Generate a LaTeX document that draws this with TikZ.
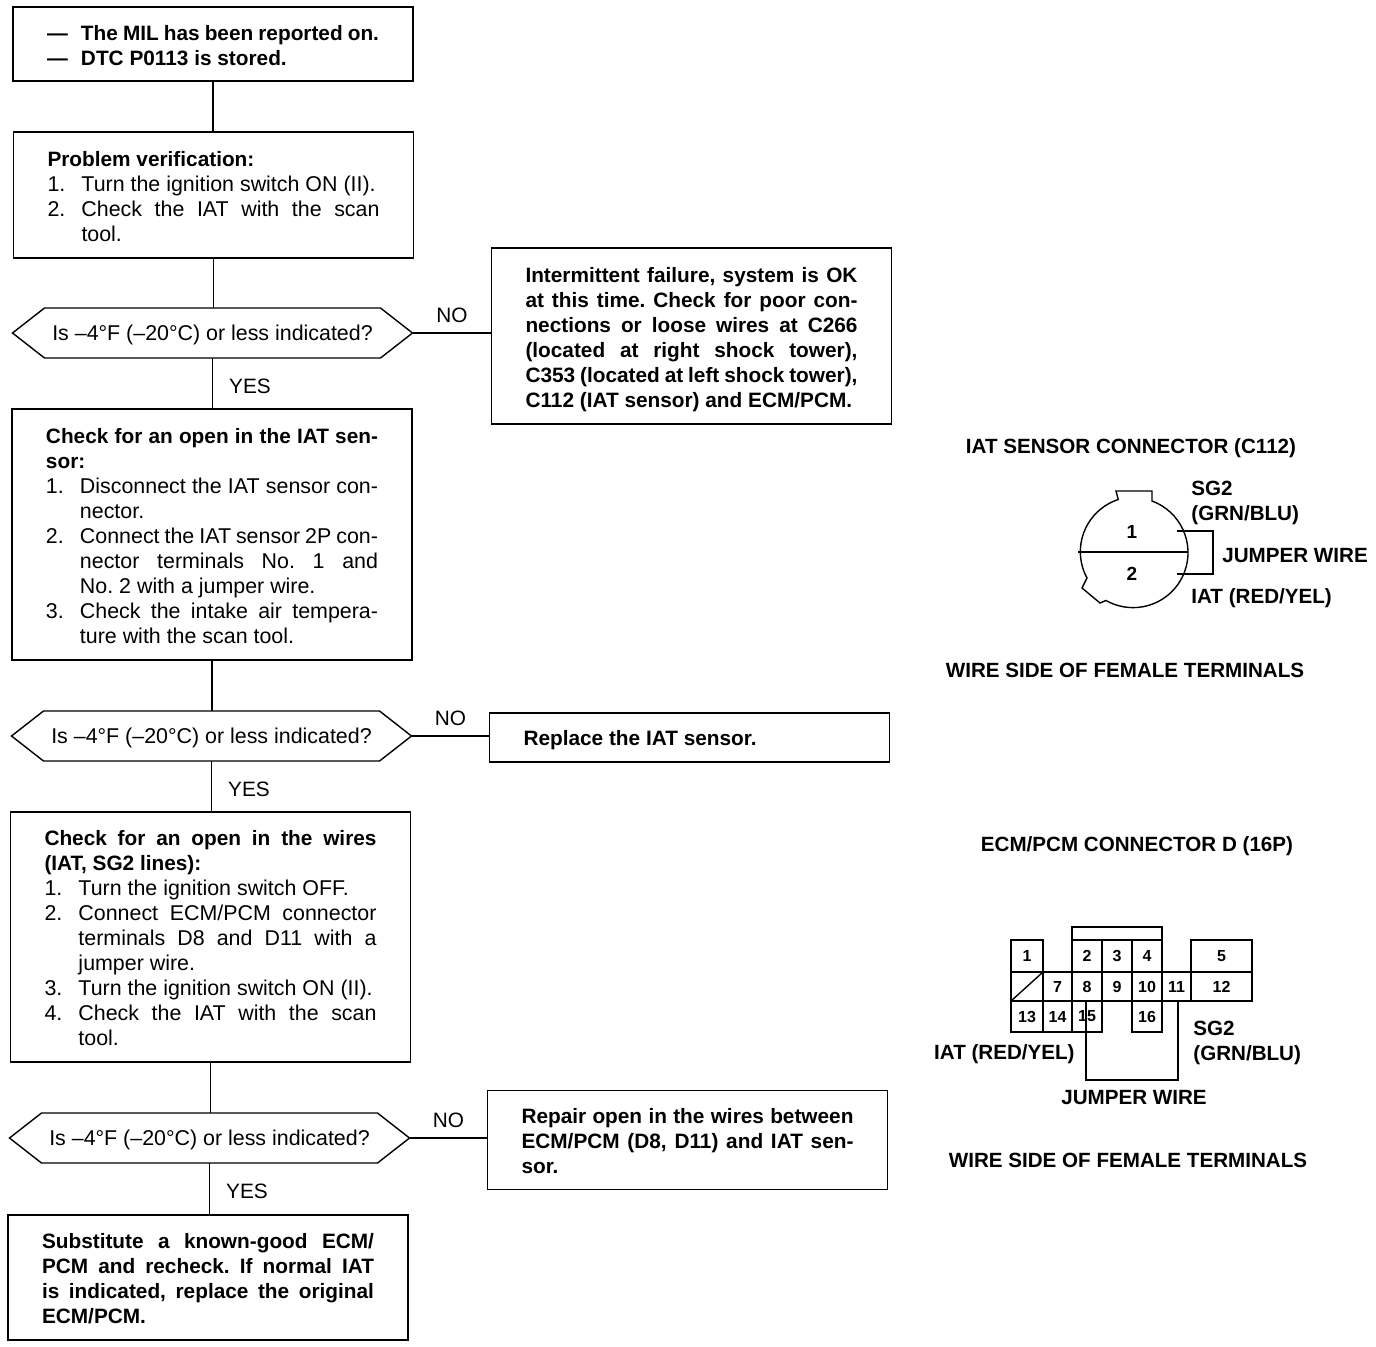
\documentclass[tikz,border=0pt]{standalone}
\usepackage{fontspec}
\setmainfont{Liberation Sans}
\usetikzlibrary{positioning,shapes.symbols}
\frenchspacing
\newcommand{\stepline}[1]{\par\hangindent=17pt\hangafter=1\makebox[17pt][l]{#1}}
\newcommand{\boldtxt}{\fontsize{10.4}{12.5}\selectfont\bfseries}
\newcommand{\closebox}[1]{\par\vspace{#1}}

\begin{document}
\begin{tikzpicture}[
  x=0.5pt, y=-0.5pt,
  every node/.style={font=\fontsize{10.7}{12.5}\selectfont},
  stepbox/.style={draw, line width=0.7pt, outer sep=0pt, text width=166pt, inner xsep=17pt, inner ysep=0pt, align=justify, execute at end node={\closebox{-1.5pt}}},
  query/.style={draw, line width=0.7pt, outer sep=0pt, signal, signal to=east and west, signal pointer angle=76, minimum width=200pt, minimum height=25pt, inner sep=0pt, text height=9pt, text depth=1.1pt},
  answer/.style={inner sep=0pt, font=\fontsize{10.4}{12.5}\selectfont},
  conn/.style={line width=0.7pt},
  caption/.style={inner sep=0pt, align=left, font=\fontsize{10.3}{12.8}\selectfont\bfseries},
  cellline/.style={line width=1.2pt},
  cellnum/.style={inner sep=0pt, font=\fontsize{8}{9}\selectfont\bfseries},
]
\useasboundingbox (0,0) rectangle (1376,1346);

% left column
\node[stepbox, minimum height=37pt, anchor=north west] (mil) at (13,7) {\boldtxt\makebox[17pt][l]{---}The MIL has been reported on.
  \stepline{---}DTC P0113 is stored.};
\node[stepbox, minimum height=63pt, below=25.5pt of mil, xshift=0.25pt] (verify) {{\boldtxt Problem verification:}
  \stepline{1.}Turn the ignition switch ON (II).
  \stepline{2.}Check the IAT with the scan\linebreak tool.\par};
\node[query, below=25pt of verify, xshift=-0.5pt] (querya) {Is –4°F (–20°C) or less indicated?};
\node[stepbox, minimum height=125.5pt, below=25.5pt of querya, xshift=-0.25pt] (sensor) {{\boldtxt Check for an open in the IAT sen-\linebreak sor:}
  \stepline{1.}Disconnect the IAT sensor con-\linebreak nector.
  \stepline{2.}Connect the IAT sensor 2P con-\linebreak nector terminals No. 1 and\linebreak No. 2 with a jumper wire.
  \stepline{3.}Check the intake air tempera-\linebreak ture with the scan tool.\par};
\node[query, below=25.5pt of sensor, xshift=-0.25pt] (queryb) {Is –4°F (–20°C) or less indicated?};
\node[stepbox, minimum height=125pt, below=25.5pt of queryb, xshift=-0.5pt] (wires) {{\boldtxt Check for an open in the wires\linebreak (IAT, SG2 lines):}
  \stepline{1.}Turn the ignition switch OFF.
  \stepline{2.}Connect ECM/PCM connector\linebreak terminals D8 and D11 with a\linebreak jumper wire.
  \stepline{3.}Turn the ignition switch ON (II).
  \stepline{4.}Check the IAT with the scan\linebreak tool.\par};
\node[query, below=25.5pt of wires, xshift=-0.5pt] (queryc) {Is –4°F (–20°C) or less indicated?};
\node[stepbox, minimum height=62.5pt, below=26pt of queryc, xshift=-0.75pt] (ecm) {\boldtxt Substitute a known-good ECM/\linebreak PCM and recheck. If normal IAT\linebreak is indicated, replace the original\linebreak ECM/PCM.};

% right column
\node[stepbox, minimum height=88pt, right=39.5pt of querya, yshift=-1.5pt, execute at end node={\closebox{-2.5pt}}] (fail) {\boldtxt Intermittent failure, system is OK\linebreak at this time. Check for poor con-\linebreak nections or loose wires at C266\linebreak (located at right shock tower),\linebreak C353 (located at left shock tower),\linebreak C112 (IAT sensor) and ECM/PCM.};
\node[stepbox, minimum height=24.5pt, right=39pt of queryb, yshift=-0.75pt, execute at end node={\closebox{-2.5pt}}] (replace) {\boldtxt Replace the IAT sensor.};
\node[stepbox, minimum height=49.5pt, right=39pt of queryc, yshift=-1pt] (repair) {\boldtxt Repair open in the wires between\linebreak ECM/PCM (D8, D11) and IAT sen-\linebreak sor.};

\draw[conn] (mil.south) -- (mil.south |- verify.north);
\draw[conn] (verify.south) -- (verify.south |- querya.north);
\draw[conn] (querya.south) -- (querya.south |- sensor.north) node[midway, answer, right=8pt, yshift=-1.25pt] (yesa) {YES};
\draw[conn] (sensor.south) -- (sensor.south |- queryb.north);
\draw[conn] (queryb.south) -- (queryb.south |- wires.north) node[midway, answer, right=8pt, yshift=-1.25pt] (yesb) {YES};
\draw[conn] (wires.south) -- (wires.south |- queryc.north);
\draw[conn] (queryc.south) -- (queryc.south |- ecm.north) node[midway, answer, right=8pt, yshift=-1.25pt] (yesc) {YES};
\draw[conn] (querya.east) -- (querya.east -| fail.west) node[midway, answer, above=5pt] (noa) {NO};
\draw[conn] (queryb.east) -- (queryb.east -| replace.west) node[midway, answer, above=5pt] (nob) {NO};
\draw[conn] (queryc.east) -- (queryc.east -| repair.west) node[midway, answer, above=5pt] (noc) {NO};

% IAT sensor connector
\node[caption] (iattitle) at (1131,448) {IAT SENSOR CONNECTOR (C112)};
\draw[conn] (1152,501) arc (-69.8:119.5:55) -- (1100,603) -- (1082,588) -- (1087,578) arc (151.5:251.9:55)
  -- (1116,491) -- (1152,491) -- cycle;
\draw[conn] (1078,552) -- (1188,552);
\node[cellnum, font=\fontsize{9.5}{10}\selectfont\bfseries] (pina) at (1132,532) {1};
\node[cellnum, font=\fontsize{9.5}{10}\selectfont\bfseries] (pinb) at (1132,574) {2};
\coordinate (jumpa) at (1177,531);
\coordinate (jumpb) at (1177,574);
\draw[conn] (jumpa) -- (1213,531) -- (1213,574) -- (jumpb);
\node[caption, anchor=west] (sga) at (1191,503) {SG2\\(GRN/BLU)};
\node[caption, anchor=west] (jumpera) at (1222,555) {JUMPER WIRE};
\node[caption, anchor=west] (iata) at (1191,598) {IAT (RED/YEL)};
\node[caption] (sidea) at (1125,670) {WIRE SIDE OF FEMALE TERMINALS};

% ECM/PCM connector
\node[caption] (ecmtitle) at (1137,846) {ECM/PCM CONNECTOR D (16P)};
\draw[cellline] (1072,940) -- (1072,927) -- (1162,927) -- (1162,940);
\foreach \lab/\xa/\ya/\xb/\yb in {1/1011/940/1043/972, 2/1072/940/1102/972, 3/1102/940/1132/972, 4/1132/940/1162/972,
    5/1191/940/1252/972, 7/1043/972/1072/1001, 8/1072/972/1102/1001, 9/1102/972/1132/1001, 10/1132/972/1162/1001,
    11/1162/972/1191/1001, 12/1191/972/1252/1001, 13/1011/1001/1043/1032, 14/1043/1001/1072/1032,
    15/1072/1001/1102/1032, 16/1132/1001/1162/1032}
  \draw[cellline] (\xa,\ya) rectangle (\xb,\yb) node[midway, cellnum, name=cell\lab] {\lab};
\draw[cellline] (1011,1001) rectangle (1043,972);
\draw[conn] (1011,1001) -- (1043,972);
\coordinate (wirea) at (1086,1000);
\coordinate (wireb) at (1178,1001);
\draw[conn] (wirea) -- (1086,1080) -- (1178,1080) -- (wireb);
\node[caption, anchor=west] (sgb) at (1193,1043) {SG2\\(GRN/BLU)};
\node[caption, anchor=east] (iatb) at (1075,1054) {IAT (RED/YEL)};
\node[caption] (jumperb) at (1134,1097) {JUMPER WIRE};
\node[caption] (sideb) at (1128,1160) {WIRE SIDE OF FEMALE TERMINALS};
\end{tikzpicture}
\end{document}
